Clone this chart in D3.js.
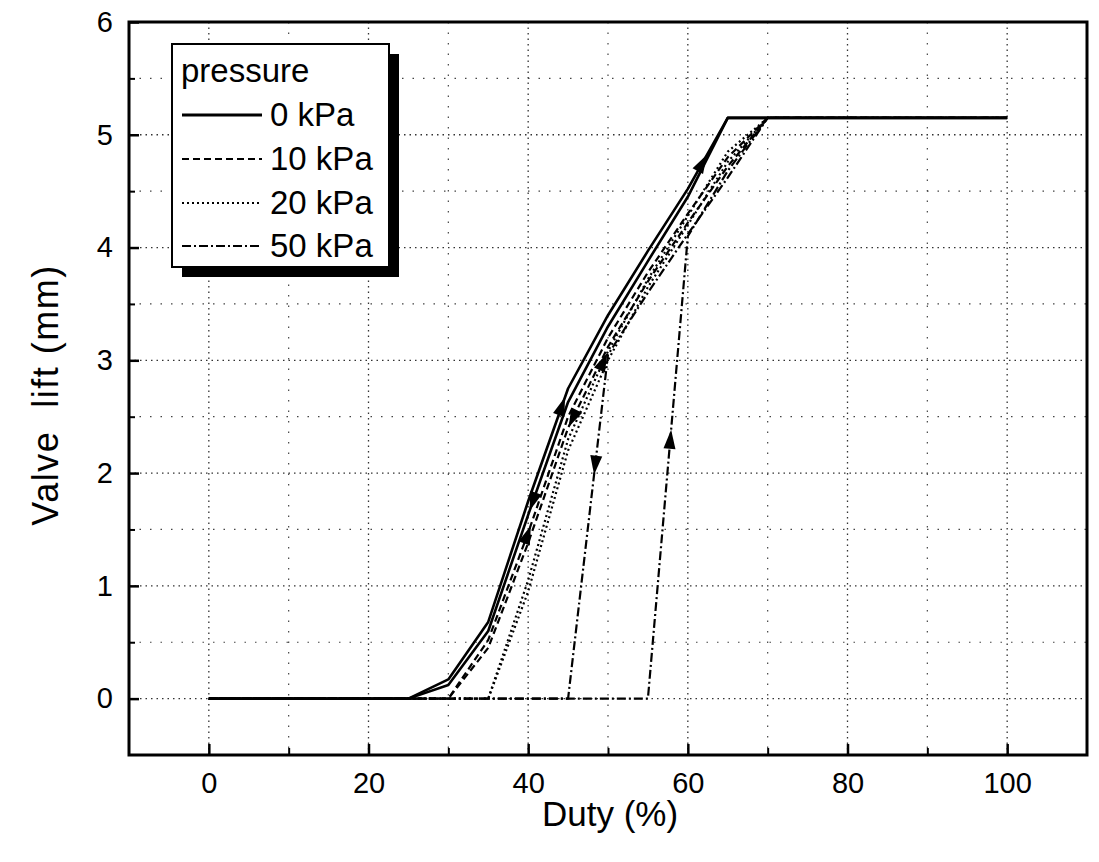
<!DOCTYPE html>
<html>
<head>
<meta charset="utf-8">
<script src="https://cdn.jsdelivr.net/npm/d3@7"></script>
<style>
  html, body { margin: 0; padding: 0; background: #fff; }
  svg { display: block; font-family: "Liberation Sans", Arial, sans-serif; }
</style>
</head>
<body>
<svg id="chart" width="1099" height="862"></svg>
<script>
// Duty cycle steps (%)
const duty = [0, 5, 10, 15, 20, 25, 30, 35, 40, 45, 50, 55, 60, 65, 70, 75, 80, 85, 90, 95, 100];

// Valve lift (mm) for rising and falling duty at each supply pressure
const lift0Up    = [0, 0, 0, 0, 0, 0, 0.17, 0.68, 1.75, 2.75, 3.40, 3.97, 4.52, 5.15, 5.15, 5.15, 5.15, 5.15, 5.15, 5.15, 5.15];
const lift0Down  = [0, 0, 0, 0, 0, 0, 0.12, 0.60, 1.63, 2.63, 3.30, 3.88, 4.45, 5.15, 5.15, 5.15, 5.15, 5.15, 5.15, 5.15, 5.15];
const lift10Up   = [0, 0, 0, 0, 0, 0, 0, 0.52, 1.47, 2.50, 3.20, 3.78, 4.30, 4.80, 5.15, 5.15, 5.15, 5.15, 5.15, 5.15, 5.15];
const lift10Down = [0, 0, 0, 0, 0, 0, 0, 0.45, 1.38, 2.40, 3.12, 3.70, 4.22, 4.72, 5.15, 5.15, 5.15, 5.15, 5.15, 5.15, 5.15];
const lift20Up   = [0, 0, 0, 0, 0, 0, 0, 0, 1.05, 2.30, 3.08, 3.72, 4.28, 4.85, 5.15, 5.15, 5.15, 5.15, 5.15, 5.15, 5.15];
const lift20Down = [0, 0, 0, 0, 0, 0, 0, 0, 0.95, 2.20, 3.00, 3.65, 4.20, 4.76, 5.15, 5.15, 5.15, 5.15, 5.15, 5.15, 5.15];
const lift50Up   = [0, 0, 0, 0, 0, 0, 0, 0, 0, 0, 0, 0, 4.10, 4.68, 5.15, 5.15, 5.15, 5.15, 5.15, 5.15, 5.15];
const lift50Down = [0, 0, 0, 0, 0, 0, 0, 0, 0, 0, 3.05, 3.60, 4.12, 4.62, 5.15, 5.15, 5.15, 5.15, 5.15, 5.15, 5.15];

// Legend entries
const pressureLabels = ["0 kPa", "10 kPa", "20 kPa", "50 kPa"];
const pressureDash = ["none", "7,4", "2,3", "9,3,2,3"];

// Curves, keyed by pressure index
const curves = [
  { key: "0u",  p: 0, values: lift0Up },
  { key: "0d",  p: 0, values: lift0Down },
  { key: "10u", p: 1, values: lift10Up },
  { key: "10d", p: 1, values: lift10Down },
  { key: "20u", p: 2, values: lift20Up },
  { key: "20d", p: 2, values: lift20Down },
  { key: "50u", p: 3, values: lift50Up },
  { key: "50d", p: 3, values: lift50Down }
];

// Direction arrows placed on curves
const arrowCurve = ["0d", "10u", "0u", "10d", "50d", "50u", "20u", "0u"];
const arrowDuty  = [40.6, 39.9, 44.2, 45.6, 48.4, 57.8, 49.4, 61.8];
const arrowDir   = ["down", "up", "up", "down", "down", "up", "up", "up"];

// Axis ticks
const xMajor = [0, 20, 40, 60, 80, 100];
const xMinor = [10, 30, 50, 70, 90];
const yMajor = [0, 1, 2, 3, 4, 5, 6];
const yMinor = [0.5, 1.5, 2.5, 3.5, 4.5, 5.5];

const svg = d3.select("#chart");
const plot = { left: 129, right: 1087, top: 22, bottom: 755 };

const x = d3.scaleLinear().domain([-10, 110]).range([plot.left, plot.right]);
const y = d3.scaleLinear().domain([-0.5, 6]).range([plot.bottom, plot.top]);

svg.append("rect").attr("width", 1099).attr("height", 862).attr("fill", "#fff");

// Dotted grid
const grid = svg.append("g");
grid.selectAll(".gx").data(xMajor).join("line")
  .attr("x1", d => x(d)).attr("x2", d => x(d))
  .attr("y1", plot.top).attr("y2", plot.bottom)
  .attr("stroke", "#333").attr("stroke-width", 1.3).attr("stroke-dasharray", "1.5,4");
grid.selectAll(".gxm").data(xMinor).join("line")
  .attr("x1", d => x(d)).attr("x2", d => x(d))
  .attr("y1", plot.top).attr("y2", plot.bottom)
  .attr("stroke", "#444").attr("stroke-width", 1.2).attr("stroke-dasharray", "1.5,9");
grid.selectAll(".gy").data(yMajor.filter(d => d < 6)).join("line")
  .attr("y1", d => y(d)).attr("y2", d => y(d))
  .attr("x1", plot.left).attr("x2", plot.right)
  .attr("stroke", "#333").attr("stroke-width", 1.3).attr("stroke-dasharray", "1.5,4");
grid.selectAll(".gym").data(yMinor).join("line")
  .attr("y1", d => y(d)).attr("y2", d => y(d))
  .attr("x1", plot.left).attr("x2", plot.right)
  .attr("stroke", "#444").attr("stroke-width", 1.2).attr("stroke-dasharray", "1.5,9");

// Curves
const line = d3.line().x((d, i) => x(duty[i])).y(d => y(d));
const curveG = svg.append("g");
curveG.selectAll("path").data(curves).join("path")
  .attr("d", d => line(d.values))
  .attr("fill", "none")
  .attr("stroke", "#000")
  .attr("stroke-width", d => d.p === 0 ? 2.6 : 2.2)
  .attr("stroke-linejoin", "round")
  .attr("stroke-dasharray", d => pressureDash[d.p] === "none" ? null : pressureDash[d.p]);

// Arrowheads along curves
const arrowG = svg.append("g");
arrowCurve.forEach((ck, k) => {
  const c = curves.find(cv => cv.key === ck);
  const dv = arrowDuty[k];
  let i = 0;
  while (i < duty.length - 2 && duty[i + 1] < dv) i++;
  const t = (dv - duty[i]) / (duty[i + 1] - duty[i]);
  const v = c.values[i] + t * (c.values[i + 1] - c.values[i]);
  const px = x(dv), py = y(v);
  let ang = Math.atan2(y(c.values[i + 1]) - y(c.values[i]), x(duty[i + 1]) - x(duty[i])) * 180 / Math.PI;
  if (arrowDir[k] === "down") ang += 180;
  arrowG.append("path")
    .attr("d", "M10,0 L-9,-6 L-9,6 Z")
    .attr("fill", "#000")
    .attr("transform", `translate(${px},${py}) rotate(${ang})`);
});

// Frame
svg.append("rect")
  .attr("x", plot.left).attr("y", plot.top)
  .attr("width", plot.right - plot.left).attr("height", plot.bottom - plot.top)
  .attr("fill", "none").attr("stroke", "#000").attr("stroke-width", 3);

// Inward ticks on bottom and left axes
const xAxis = d3.axisBottom(x).tickValues(xMajor).tickSizeInner(-11).tickSizeOuter(0)
  .tickPadding(17).tickFormat(d3.format("d"));
const gx = svg.append("g").attr("transform", `translate(0,${plot.bottom})`).call(xAxis);
gx.select(".domain").remove();
gx.selectAll(".tick line").attr("stroke", "#000").attr("stroke-width", 2.5);
gx.selectAll(".tick text").attr("font-size", 29).attr("fill", "#000")
  .attr("font-family", "Liberation Sans, Arial, sans-serif").attr("dy", "0.71em");

const xAxisMinor = d3.axisBottom(x).tickValues(xMinor).tickSizeInner(-7).tickSizeOuter(0).tickFormat("");
const gxm = svg.append("g").attr("transform", `translate(0,${plot.bottom})`).call(xAxisMinor);
gxm.select(".domain").remove();
gxm.selectAll(".tick line").attr("stroke", "#000").attr("stroke-width", 2);

const yAxis = d3.axisLeft(y).tickValues(yMajor).tickSizeInner(-10).tickSizeOuter(0)
  .tickPadding(16).tickFormat(d3.format("d"));
const gy = svg.append("g").attr("transform", `translate(${plot.left},0)`).call(yAxis);
gy.select(".domain").remove();
gy.selectAll(".tick line").attr("stroke", "#000").attr("stroke-width", 2.5);
gy.selectAll(".tick text").attr("font-size", 29).attr("fill", "#000")
  .attr("font-family", "Liberation Sans, Arial, sans-serif");

const yAxisMinor = d3.axisLeft(y).tickValues(yMinor).tickSizeInner(-6).tickSizeOuter(0).tickFormat("");
const gym = svg.append("g").attr("transform", `translate(${plot.left},0)`).call(yAxisMinor);
gym.select(".domain").remove();
gym.selectAll(".tick line").attr("stroke", "#000").attr("stroke-width", 2);

// Axis titles
svg.append("text")
  .attr("x", 610).attr("y", 826)
  .attr("text-anchor", "middle").attr("font-size", 35).attr("fill", "#000")
  .text("Duty (%)");
svg.append("text")
  .attr("transform", "translate(58,395) rotate(-90)")
  .attr("text-anchor", "middle").attr("font-size", 36).attr("fill", "#000")
  .attr("letter-spacing", 1.5)
  .style("white-space", "pre")
  .text("Valve  lift (mm)");

// Legend with drop shadow
const lg = svg.append("g");
const lgBox = { x: 172, y: 44, w: 217, h: 223 };
lg.append("rect").attr("x", lgBox.x + 10).attr("y", lgBox.y + 10)
  .attr("width", lgBox.w).attr("height", lgBox.h).attr("fill", "#000");
lg.append("rect").attr("x", lgBox.x).attr("y", lgBox.y)
  .attr("width", lgBox.w).attr("height", lgBox.h)
  .attr("fill", "#fff").attr("stroke", "#000").attr("stroke-width", 2);
lg.append("text").attr("x", 181).attr("y", 82)
  .attr("font-size", 33).attr("fill", "#000").text("pressure");
const rowY = [126, 170, 214, 257];
pressureLabels.forEach((lab, i) => {
  lg.append("line")
    .attr("x1", 182).attr("x2", 262)
    .attr("y1", rowY[i] - 11).attr("y2", rowY[i] - 11)
    .attr("stroke", "#000").attr("stroke-width", i === 0 ? 2.8 : 2.2)
    .attr("stroke-dasharray", pressureDash[i] === "none" ? null : pressureDash[i]);
  lg.append("text").attr("x", 270).attr("y", rowY[i])
    .attr("font-size", 33).attr("fill", "#000").text(lab);
});
</script>
</body>
</html>
